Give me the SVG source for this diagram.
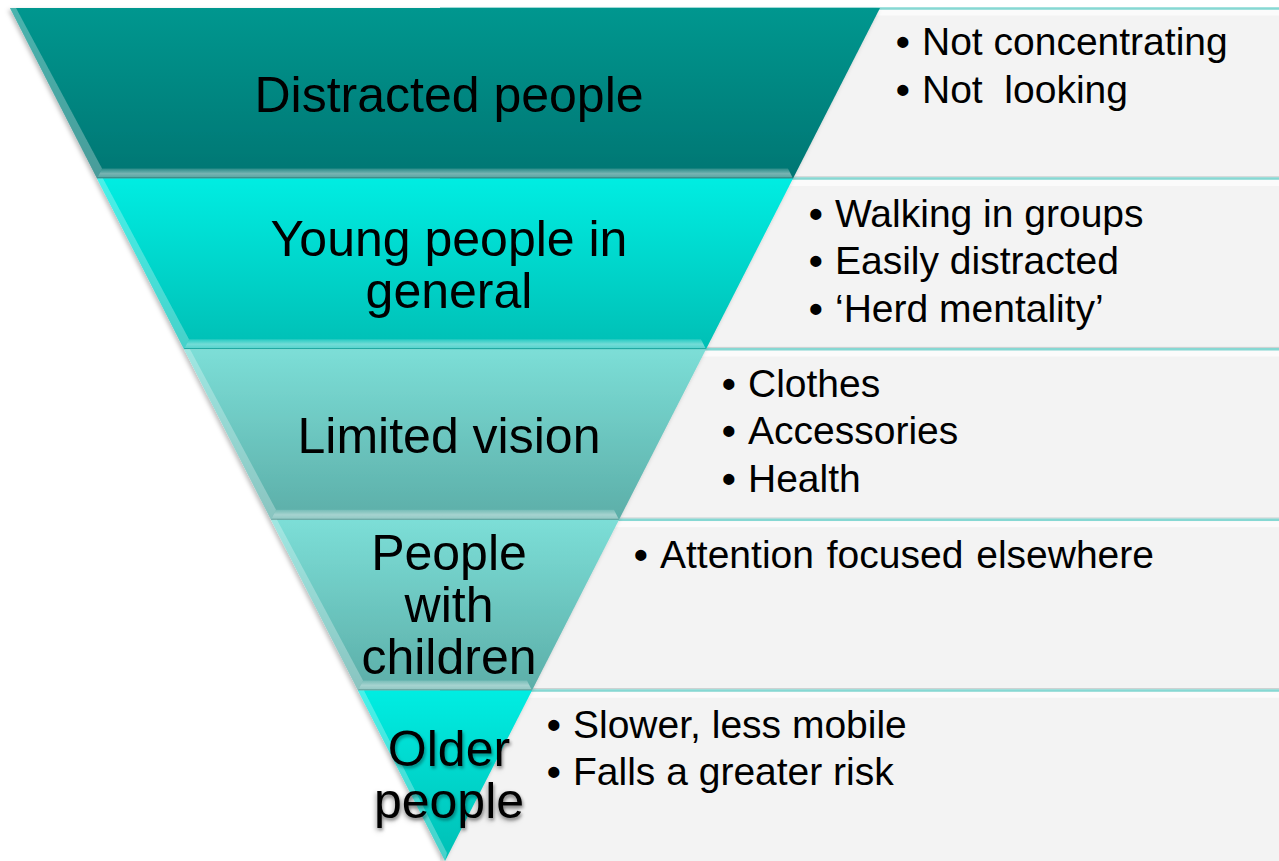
<svg xmlns="http://www.w3.org/2000/svg" width="1279" height="861" viewBox="0 0 1279 861">
<style>
.band-label{font-family:"Liberation Sans",Arial,sans-serif;font-size:50px;fill:#000;text-anchor:middle}
.item{font-family:"Liberation Sans",Arial,sans-serif;font-size:39px;fill:#000;white-space:pre}
.dot{font-weight:bold}
.box{fill:#f3f3f3}
.boxline{stroke:#86d8d3;stroke-width:2.5;fill:none}
.boxshade{stroke:#c9cfcf;stroke-width:1;fill:none}
.boxhi{fill:#fbfbfb}
.bevel{fill:url(#bevelG)}
.edge{fill:#ffffff;opacity:0.28}
</style>
<defs>
<linearGradient id="g1" x1="0" y1="0" x2="0" y2="1">
<stop offset="0" stop-color="#03978f"/><stop offset="1" stop-color="#057673"/>
</linearGradient>
<linearGradient id="g2" x1="0" y1="0" x2="0" y2="1">
<stop offset="0" stop-color="#00ede2"/><stop offset="1" stop-color="#00bfb5"/>
</linearGradient>
<linearGradient id="g3" x1="0" y1="0" x2="0" y2="1">
<stop offset="0" stop-color="#7cded7"/><stop offset="1" stop-color="#5caea8"/>
</linearGradient>
<linearGradient id="bevelG" x1="0" y1="0" x2="0" y2="1">
<stop offset="0" stop-color="#ffffff" stop-opacity="0.15"/>
<stop offset="0.5" stop-color="#ffffff" stop-opacity="0.45"/>
<stop offset="0.85" stop-color="#ffffff" stop-opacity="0.35"/>
<stop offset="1" stop-color="#000000" stop-opacity="0.25"/>
</linearGradient>
<filter id="shadow" x="-5%" y="-5%" width="110%" height="110%">
<feDropShadow dx="-2" dy="2" stdDeviation="2" flood-color="#000" flood-opacity="0.25"/>
</filter>
<filter id="tshadow" x="-10%" y="-10%" width="120%" height="130%">
<feDropShadow dx="1.5" dy="2.5" stdDeviation="1.5" flood-color="#000" flood-opacity="0.35"/>
</filter>
</defs>
<rect width="1279" height="861" fill="#ffffff"/>

<!-- info boxes -->
<g id="box-distracted">
<rect class="box" x="440" y="8" width="839" height="170.6"/>
<rect class="boxhi" x="440" y="9.5" width="839" height="6"/>
<line class="boxline" x1="440" y1="8.5" x2="1279" y2="8.5"/>
<text class="item" x="896" y="55"><tspan class="dot">•</tspan><tspan x="922">Not concentrating</tspan></text>
<text class="item" x="896" y="103"><tspan class="dot">•</tspan><tspan x="922">Not  looking</tspan></text>
</g>
<g id="box-young">
<rect class="box" x="440" y="178.6" width="839" height="170.6"/>
<rect class="boxhi" x="440" y="180" width="839" height="6"/>
<line class="boxshade" x1="440" y1="176.8" x2="1279" y2="176.8"/>
<line class="boxline" x1="440" y1="178.6" x2="1279" y2="178.6"/>
<text class="item" x="809" y="227"><tspan class="dot">•</tspan><tspan x="835">Walking in groups</tspan></text>
<text class="item" x="809" y="274"><tspan class="dot">•</tspan><tspan x="835">Easily distracted</tspan></text>
<text class="item" x="809" y="322"><tspan class="dot">•</tspan><tspan x="835">‘Herd mentality’</tspan></text>
</g>
<g id="box-vision">
<rect class="box" x="440" y="349.2" width="839" height="170.6"/>
<rect class="boxhi" x="440" y="350.6" width="839" height="6"/>
<line class="boxshade" x1="440" y1="347.4" x2="1279" y2="347.4"/>
<line class="boxline" x1="440" y1="349.2" x2="1279" y2="349.2"/>
<text class="item" x="722" y="397"><tspan class="dot">•</tspan><tspan x="748">Clothes</tspan></text>
<text class="item" x="722" y="444"><tspan class="dot">•</tspan><tspan x="748">Accessories</tspan></text>
<text class="item" x="722" y="492"><tspan class="dot">•</tspan><tspan x="748">Health</tspan></text>
</g>
<g id="box-children">
<rect class="box" x="440" y="519.8" width="839" height="170.6"/>
<rect class="boxhi" x="440" y="521.2" width="839" height="6"/>
<line class="boxshade" x1="440" y1="518" x2="1279" y2="518"/>
<line class="boxline" x1="440" y1="519.8" x2="1279" y2="519.8"/>
<text class="item" x="634" y="568"><tspan class="dot">•</tspan><tspan x="660" word-spacing="2">Attention focused elsewhere</tspan></text>
</g>
<g id="box-older">
<rect class="box" x="440" y="690.4" width="839" height="170.6"/>
<rect class="boxhi" x="440" y="691.8" width="839" height="6"/>
<line class="boxshade" x1="440" y1="688.6" x2="1279" y2="688.6"/>
<line class="boxline" x1="440" y1="690.4" x2="1279" y2="690.4"/>
<text class="item" x="547" y="738"><tspan class="dot">•</tspan><tspan x="573">Slower, less mobile</tspan></text>
<text class="item" x="547" y="785"><tspan class="dot">•</tspan><tspan x="573">Falls a greater risk</tspan></text>
</g>

<!-- inverted pyramid bands -->
<g id="pyramid" filter="url(#shadow)">
<g id="band-distracted">
<polygon points="10,8 880,8 793,178.6 97,178.6" fill="url(#g1)"/>
<polygon class="edge" points="10,8 16,8 102,168.6 97,178.6"/>
<polygon class="bevel" points="97,178.6 102,168.6 788,168.6 793,178.6"/>
<text class="band-label" x="449" y="112">Distracted people</text>
</g>
<g id="band-young">
<polygon points="97,178.6 793,178.6 706,349.2 184,349.2" fill="url(#g2)"/>
<polygon class="edge" points="97,178.6 103,178.6 189,339.2 184,349.2"/>
<polygon class="bevel" points="184,349.2 189,339.2 701,339.2 706,349.2"/>
<text class="band-label" x="449" y="256">Young people in<tspan x="449" y="308">general</tspan></text>
</g>
<g id="band-vision">
<polygon points="184,349.2 706,349.2 619,519.8 271,519.8" fill="url(#g3)"/>
<polygon class="edge" points="184,349.2 190,349.2 276,509.8 271,519.8"/>
<polygon class="bevel" points="271,519.8 276,509.8 614,509.8 619,519.8"/>
<text class="band-label" x="449" y="453">Limited vision</text>
</g>
<g id="band-children">
<polygon points="271,519.8 619,519.8 532,690.4 358,690.4" fill="url(#g3)"/>
<polygon class="edge" points="271,519.8 277,519.8 363,680.4 358,690.4"/>
<polygon class="bevel" points="358,690.4 363,680.4 527,680.4 532,690.4"/>
<text class="band-label" x="449" y="570">People<tspan x="449" y="622">with</tspan><tspan x="449" y="674">children</tspan></text>
</g>
<g id="band-older">
<polygon points="358,690.4 532,690.4 445,861" fill="url(#g2)"/>
<polygon class="edge" points="358,690.4 364,690.4 447,853 445,861"/>
<text class="band-label" x="449" y="766" filter="url(#tshadow)">Older<tspan x="449" y="818">people</tspan></text>
</g>
</g>
</svg>
